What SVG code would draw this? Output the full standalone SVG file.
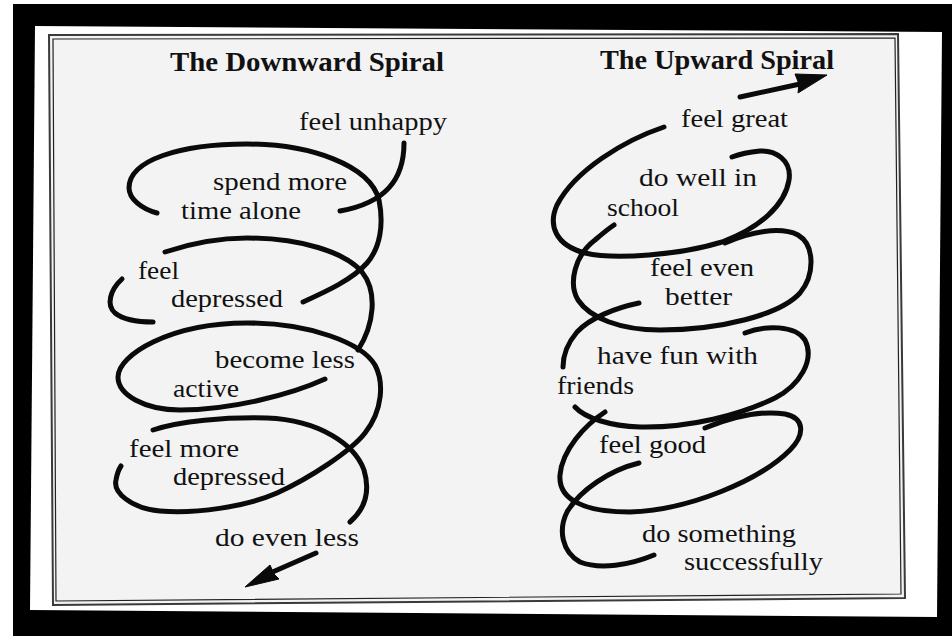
<svg xmlns="http://www.w3.org/2000/svg" width="952" height="636" viewBox="0 0 952 636">
  <style>
    .lbl { font-family: "Liberation Serif", "Times New Roman", serif; font-size: 25px; fill: #111; }
    .ttl { font-family: "Liberation Serif", "Times New Roman", serif; font-size: 27px; font-weight: bold; fill: #111; }
    .stroke { fill: none; stroke: #0a0a0a; stroke-width: 5; stroke-linecap: round; stroke-linejoin: round; }
    .head { fill: #0a0a0a; stroke: #0a0a0a; stroke-width: 1; stroke-linejoin: round; }
  </style>

  <!-- surround and sheet -->
  <rect x="0" y="0" width="952" height="636" fill="#ffffff"/>
  <rect x="13" y="4" width="939" height="632" fill="#000000"/>
  <polygon points="35,26 942,32 937,617 30,610" fill="#ffffff"/>

  <!-- double ruled frame -->
  <polygon points="49,35 898,34 905,598 53,605" fill="#f3f3f3" stroke="#3a3a3a" stroke-width="2"/>
  <polygon points="53,39 895,38 901,594 56,601" fill="none" stroke="#222" stroke-width="1.2"/>

  <!-- left panel: downward spiral -->
  <g id="downward">
    <g id="down-title"><text class="ttl" x="170" y="71" textLength="274" lengthAdjust="spacingAndGlyphs">The Downward Spiral</text></g>
    <g id="down-1"><text class="lbl" x="299" y="130" textLength="148" lengthAdjust="spacingAndGlyphs">feel unhappy</text></g>
    <g id="down-2">
      <text class="lbl" x="213" y="190" textLength="134" lengthAdjust="spacingAndGlyphs">spend more</text>
      <text class="lbl" x="181" y="219" textLength="120" lengthAdjust="spacingAndGlyphs">time alone</text>
    </g>
    <g id="down-3">
      <text class="lbl" x="138" y="279" textLength="41" lengthAdjust="spacingAndGlyphs">feel</text>
      <text class="lbl" x="171" y="307" textLength="112" lengthAdjust="spacingAndGlyphs">depressed</text>
    </g>
    <g id="down-4">
      <text class="lbl" x="215" y="368" textLength="140" lengthAdjust="spacingAndGlyphs">become less</text>
      <text class="lbl" x="173" y="397" textLength="66" lengthAdjust="spacingAndGlyphs">active</text>
    </g>
    <g id="down-5">
      <text class="lbl" x="129" y="457" textLength="110" lengthAdjust="spacingAndGlyphs">feel more</text>
      <text class="lbl" x="173" y="485" textLength="112" lengthAdjust="spacingAndGlyphs">depressed</text>
    </g>
    <g id="down-6"><text class="lbl" x="215" y="546" textLength="144" lengthAdjust="spacingAndGlyphs">do even less</text></g>
  </g>

  <!-- right panel: upward spiral -->
  <g id="upward">
    <g id="up-title"><text class="ttl" x="600" y="69" textLength="234" lengthAdjust="spacingAndGlyphs">The Upward Spiral</text></g>
    <g id="up-1"><text class="lbl" x="681" y="127" textLength="107" lengthAdjust="spacingAndGlyphs">feel great</text></g>
    <g id="up-2">
      <text class="lbl" x="639" y="186" textLength="118" lengthAdjust="spacingAndGlyphs">do well in</text>
      <text class="lbl" x="607" y="216" textLength="72" lengthAdjust="spacingAndGlyphs">school</text>
    </g>
    <g id="up-3">
      <text class="lbl" x="650" y="276" textLength="104" lengthAdjust="spacingAndGlyphs">feel even</text>
      <text class="lbl" x="665" y="305" textLength="67" lengthAdjust="spacingAndGlyphs">better</text>
    </g>
    <g id="up-4">
      <text class="lbl" x="597" y="364" textLength="161" lengthAdjust="spacingAndGlyphs">have fun with</text>
      <text class="lbl" x="557" y="394" textLength="77" lengthAdjust="spacingAndGlyphs">friends</text>
    </g>
    <g id="up-5"><text class="lbl" x="599" y="453" textLength="107" lengthAdjust="spacingAndGlyphs">feel good</text></g>
    <g id="up-6">
      <text class="lbl" x="642" y="542" textLength="154" lengthAdjust="spacingAndGlyphs">do something</text>
      <text class="lbl" x="684" y="570" textLength="139" lengthAdjust="spacingAndGlyphs">successfully</text>
    </g>
  </g>

  <!-- hand-drawn spiral strokes and arrows -->
  <g id="connectors">
    <!-- downward -->
    <path class="stroke" d="M404,143 C404,180 385,203 340,211"/>
    <path class="stroke" d="M157,213 C142,209 129,199 129,188 C129,160 180,144 247,144 C310,144 370,165 379,200 C384,225 380,248 367,263 C352,280 325,292 303,302"/>
    <path class="stroke" d="M165,252 C195,242 220,238 247,238 C300,238 345,252 362,272 C378,292 374,325 358,350"/>
    <path class="stroke" d="M122,279 C110,290 106,305 115,313 C125,321 140,322 153,322"/>
    <path class="stroke" d="M325,379 C290,395 230,410 180,410 C145,410 118,395 118,377 C118,355 170,323 247,323 C310,323 362,343 375,365 C384,382 383,410 365,433 C351,451 310,478 277,493 C245,507 195,514 160,511 C130,508 113,492 116,480 C117,474 119,469 121,466"/>
    <path class="stroke" d="M153,430 C180,421 225,417 267,418 C320,420 355,445 364,470 C370,490 366,508 350,522"/>
    <path class="stroke" d="M316,553 L268,574"/>
    <polygon class="head" points="245,587 270,565 274,574 279,579"/>

    <!-- upward -->
    <path class="stroke" d="M740,97 L800,84"/>
    <polygon class="head" points="827,75 795,74 799,84 798,93"/>
    <path class="stroke" d="M664,127 C625,140 575,170 557,205 C548,225 555,245 585,253 C615,260 680,255 722,242 C760,228 785,205 789,180 C792,160 775,150 760,151 C750,152 740,154 732,157"/>
    <path class="stroke" d="M725,243 C750,232 780,226 798,235 C815,245 815,275 800,293 C780,315 720,330 660,330 C620,330 590,318 578,300 C568,283 575,255 595,240 C602,234 608,229 614,225"/>
    <path class="stroke" d="M639,303 C615,308 590,318 577,332 C566,345 563,356 563,367"/>
    <path class="stroke" d="M745,333 C765,325 795,325 805,340 C815,360 800,385 775,398 C740,415 690,428 640,427 C610,426 585,418 575,407"/>
    <path class="stroke" d="M605,412 C585,425 562,450 560,475 C558,500 585,512 630,512 C690,510 760,480 790,450 C805,435 805,418 785,414 C760,410 730,418 705,428"/>
    <path class="stroke" d="M639,463 C610,470 580,490 567,512 C558,530 562,552 580,562 C600,570 630,565 654,555"/>
  </g>
</svg>
